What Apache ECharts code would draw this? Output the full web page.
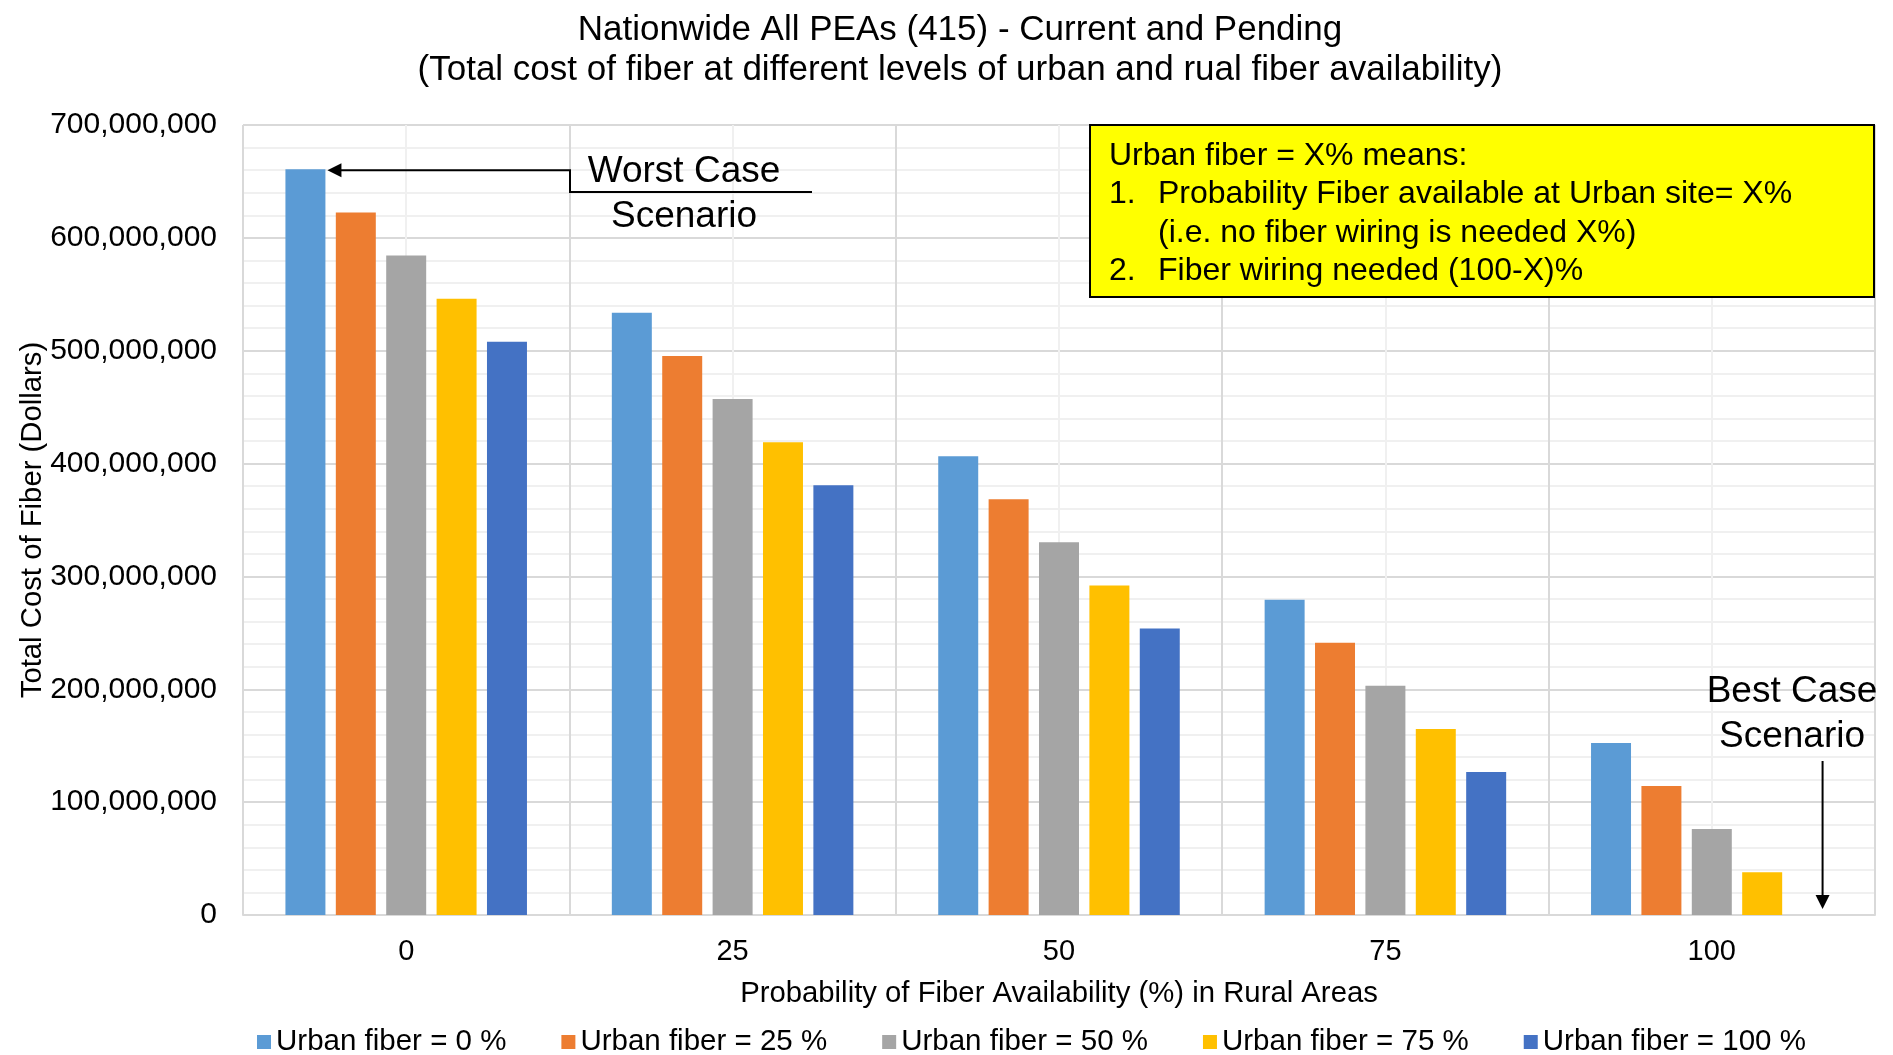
<!DOCTYPE html>
<html>
<head>
<meta charset="utf-8">
<title>Nationwide All PEAs (415) - Current and Pending</title>
<script src="https://cdn.jsdelivr.net/npm/echarts@6/dist/echarts.min.js"></script>
<style>
  html, body { margin: 0; padding: 0; background: #fff; }
  #chart { width: 1893px; height: 1055px; }
</style>
</head>
<body>
<div id="chart"></div>
<script>
// rural fiber availability (%) on the x axis
var ruralLevels = ['0', '25', '50', '75', '100'];
var seriesNames = ['Urban fiber = 0 %', 'Urban fiber = 25 %', 'Urban fiber = 50 %', 'Urban fiber = 75 %', 'Urban fiber = 100 %'];

// total cost of fiber (dollars)
var urban0   = [660700000, 533600000, 406500000, 279400000, 152400000];
var urban25  = [622400000, 495300000, 368300000, 241200000, 114200000];
var urban50  = [584300000, 457300000, 330200000, 203100000, 76100000];
var urban75  = [546000000, 419000000, 292000000, 164900000, 37900000];
var urban100 = [507900000, 380800000, 253800000, 126700000, 0];

var yMax = 700000000;
var yStep = 100000000;

var noteLines = [
    'Urban fiber = X% means:',
    '1.',
    'Probability Fiber available at Urban site= X%',
    '(i.e. no fiber wiring is needed X%)',
    '2.',
    'Fiber wiring needed (100-X)%'
];

var colors = ['#5B9BD5', '#ED7D31', '#A5A5A5', '#FFC000', '#4472C4'];
var font = '"Liberation Sans", Arial, Helvetica, sans-serif';

var chart = echarts.init(document.getElementById('chart'));

var values = [urban0, urban25, urban50, urban75, urban100];
var series = [];
for (var i = 0; i < values.length; i++) {
    series.push({
        name: seriesNames[i],
        type: 'bar',
        xAxisIndex: 0,
        data: values[i],
        barGap: '26%',
        barCategoryGap: '26%',
        itemStyle: { color: colors[i] }
    });
}

var option = {
    animation: false,
    color: colors,
    textStyle: { fontFamily: font, color: '#000' },
    title: {
        text: 'Nationwide All PEAs (415) - Current and Pending\n(Total cost of fiber at different levels of urban and rual fiber availability)',
        left: 955,
        top: 5,
        textAlign: 'center',
        textStyle: { fontFamily: font, fontSize: 35, fontWeight: 'normal', color: '#000', lineHeight: 40 }
    },
    legend: {
        data: seriesNames,
        left: 252,
        top: 1022,
        icon: 'rect',
        itemWidth: 14,
        itemHeight: 14,
        itemGap: 55,
        textStyle: { fontFamily: font, fontSize: 29.5, color: '#000' }
    },
    grid: { left: 243, right: 18, top: 125, bottom: 140 },
    xAxis: [{
        type: 'category',
        data: ruralLevels,
        name: 'Probability of Fiber Availability (%) in Rural Areas',
        nameLocation: 'middle',
        nameGap: 64,
        nameTextStyle: { fontFamily: font, fontSize: 29.3, color: '#000' },
        axisLine: { lineStyle: { color: '#d9d9d9', width: 2 } },
        axisTick: { show: false },
        axisLabel: { fontFamily: font, fontSize: 29, color: '#000', margin: 22 },
        splitLine: { show: false }
    }, {
        // only draws the vertical grid lines (group edges and group centres)
        type: 'value',
        min: 0,
        max: 10,
        interval: 1,
        position: 'top',
        axisLine: { show: false },
        axisTick: { show: false },
        axisLabel: { show: false },
        splitLine: { show: true, lineStyle: { color: ['#d9d9d9', '#f0f0f0'], width: 2 } }
    }],
    yAxis: {
        type: 'value',
        min: 0,
        max: yMax,
        interval: yStep,
        name: 'Total Cost of Fiber (Dollars)',
        nameLocation: 'middle',
        nameGap: 196,
        nameMoveOverlap: false,
        nameTextStyle: { fontFamily: font, fontSize: 29.3, color: '#000' },
        axisLine: { show: false },
        axisTick: { show: false },
        axisLabel: {
            fontFamily: font, fontSize: 30, color: '#000', margin: 26,
            formatter: function (v) { return v.toLocaleString('en-US'); }
        },
        splitLine: { lineStyle: { color: '#d9d9d9', width: 2 } },
        minorTick: { show: false, splitNumber: 5 },
        minorSplitLine: { show: true, lineStyle: { color: '#f0f0f0', width: 2 } }
    },
    series: series
};
chart.setOption(option);

// annotations, placed from the laid-out bars
function barLayout(si, di) {
    var s = chart.getModel().getSeriesByIndex(si);
    return s.getData().getItemLayout(di);
}
var worst = barLayout(0, 0);
var best = barLayout(4, 4);
var tipX = worst.x + worst.width + 2;
var tipY = worst.y + worst.height + 1;
var bendX = 570, bendY = 192, endX = 812;
var bestX = best.x + best.width / 2 + 10;
var bestBottom = chart.convertToPixel({ yAxisIndex: 0 }, 0) - 6;

var noteX = 1090, noteY = 125, noteW = 784, noteH = 172;
var bigFont = '37px ' + font;
var graphic = [
    {
        type: 'polyline',
        shape: { points: [[tipX + 12, tipY], [bendX, tipY], [bendX, bendY], [endX, bendY]] },
        style: { stroke: '#000', lineWidth: 2, fill: null }
    },
    {
        type: 'polygon',
        shape: { points: [[tipX, tipY], [tipX + 14, tipY - 7], [tipX + 14, tipY + 7]] },
        style: { fill: '#000' }
    },
    {
        type: 'text', x: 684, y: 171.5,
        style: { text: 'Worst Case', font: bigFont, fill: '#000', align: 'center', verticalAlign: 'middle' }
    },
    {
        type: 'text', x: 684, y: 216.5,
        style: { text: 'Scenario', font: bigFont, fill: '#000', align: 'center', verticalAlign: 'middle' }
    },
    {
        type: 'text', x: 1792, y: 691.5,
        style: { text: 'Best Case', font: bigFont, fill: '#000', align: 'center', verticalAlign: 'middle' }
    },
    {
        type: 'text', x: 1792, y: 736.5,
        style: { text: 'Scenario', font: bigFont, fill: '#000', align: 'center', verticalAlign: 'middle' }
    },
    {
        type: 'line',
        shape: { x1: bestX, y1: 761, x2: bestX, y2: bestBottom - 12 },
        style: { stroke: '#000', lineWidth: 2 }
    },
    {
        type: 'polygon',
        shape: { points: [[bestX, bestBottom], [bestX - 7, bestBottom - 14], [bestX + 7, bestBottom - 14]] },
        style: { fill: '#000' }
    },
    {
        type: 'rect',
        shape: { x: noteX, y: noteY, width: noteW, height: noteH },
        style: { fill: '#FFFF00', stroke: '#000', lineWidth: 2 },
        z: 10
    }
];
var noteRows = [
    [noteLines[0], 1109, 156],
    [noteLines[1], 1109, 194],
    [noteLines[2], 1158, 194],
    [noteLines[3], 1158, 233],
    [noteLines[4], 1109, 271],
    [noteLines[5], 1158, 271]
];
noteRows.forEach(function (r) {
    graphic.push({
        type: 'text', x: r[1], y: r[2], z: 11,
        style: { text: r[0], font: '32px ' + font, fill: '#000', align: 'left', verticalAlign: 'middle' }
    });
});
chart.setOption({ graphic: graphic });
</script>
</body>
</html>
